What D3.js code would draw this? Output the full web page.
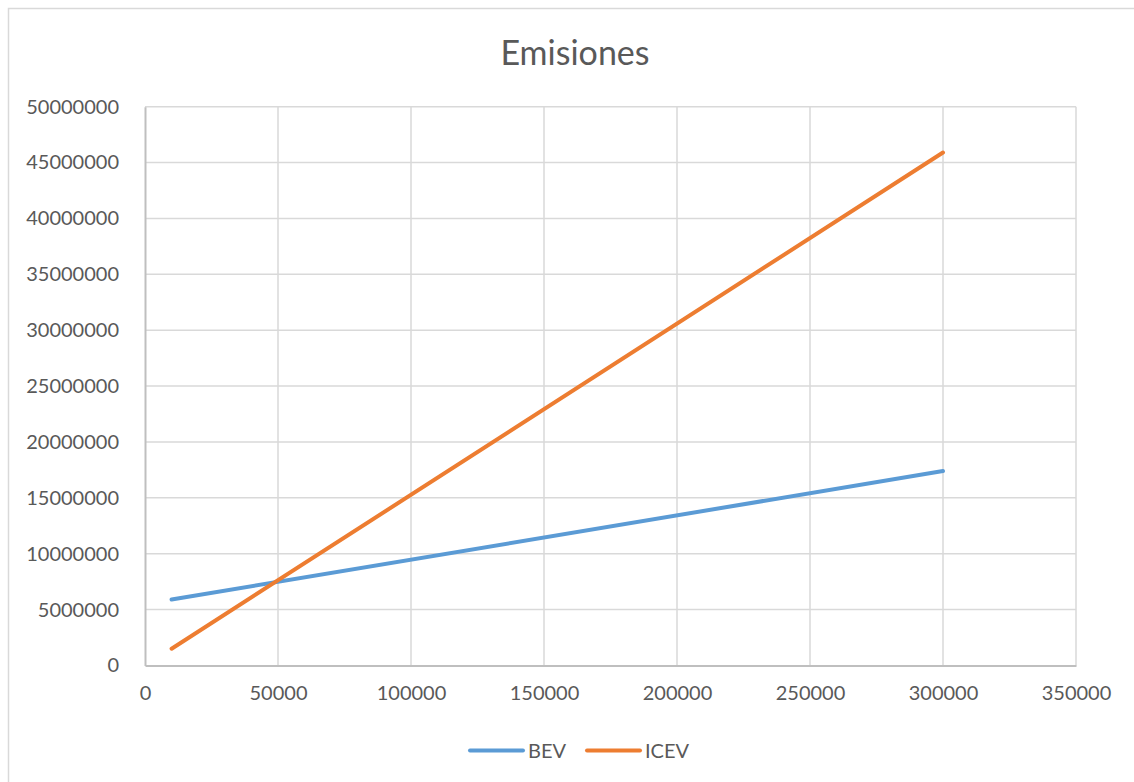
<!DOCTYPE html>
<html>
<head>
<meta charset="utf-8">
<script src="https://cdn.jsdelivr.net/npm/d3@7"></script>
<style>
  html, body { margin: 0; padding: 0; background: #fff; }
  svg { display: block; }
  text { font-family: Lato, "Open Sans", sans-serif; fill: #595959; }
</style>
</head>
<body>
<svg id="chart" width="1134" height="782"></svg>
<script>
// Distance travelled (km) at which each series was evaluated
const distances = [10000, 300000];
// Cumulative emissions for each powertrain
const bevValues = [5900000, 17400000];
const icevValues = [1500000, 45900000];
const seriesNames = ["BEV", "ICEV"];
const seriesColors = ["#5B9BD5", "#ED7D31"];
const xTicks = [0, 50000, 100000, 150000, 200000, 250000, 300000, 350000];
const yTicks = [0, 5000000, 10000000, 15000000, 20000000, 25000000, 30000000, 35000000, 40000000, 45000000, 50000000];

const svg = d3.select("#chart");
const W = 1134, H = 782;
const plot = { left: 145, right: 1076, top: 106.7, bottom: 665.5 };

// Outer chart frame
svg.append("rect")
  .attr("x", 8.5).attr("y", 8.5)
  .attr("width", W + 20).attr("height", H + 20)
  .attr("fill", "#fff")
  .attr("stroke", "#d9d9d9").attr("stroke-width", 1.5);

const x = d3.scaleLinear().domain([0, 350000]).range([plot.left, plot.right]);
const y = d3.scaleLinear().domain([0, 50000000]).range([plot.bottom, plot.top]);

// Gridlines
const grid = svg.append("g");
grid.selectAll("line.h").data(yTicks.slice(1)).join("line")
  .attr("class", "h")
  .attr("x1", plot.left).attr("x2", plot.right)
  .attr("y1", d => y(d)).attr("y2", d => y(d))
  .attr("stroke", "#d9d9d9").attr("stroke-width", 1.5);
grid.selectAll("line.v").data(xTicks.slice(1)).join("line")
  .attr("class", "v")
  .attr("y1", plot.top).attr("y2", plot.bottom)
  .attr("x1", d => x(d)).attr("x2", d => x(d))
  .attr("stroke", "#d9d9d9").attr("stroke-width", 1.5);

// Axes
const yAxis = d3.axisLeft(y).tickValues(yTicks).tickFormat(d3.format("d")).tickSize(0).tickPadding(26);
const xAxis = d3.axisBottom(x).tickValues(xTicks).tickFormat(d3.format("d")).tickSize(0).tickPadding(20);

const gy = svg.append("g").attr("transform", `translate(${plot.left},0)`).call(yAxis);
const gx = svg.append("g").attr("transform", `translate(0,${plot.bottom})`).call(xAxis);
[gx, gy].forEach(g => {
  g.select(".domain").attr("stroke", "#bfbfbf").attr("stroke-width", 2);
  g.selectAll("text").attr("font-size", 20).attr("fill", "#595959")
    .attr("font-family", "Lato, 'Open Sans', sans-serif");
});

// Series lines
const seriesData = [bevValues, icevValues].map((vals, i) => ({
  name: seriesNames[i],
  color: seriesColors[i],
  points: distances.map((d, j) => ({ x: d, y: vals[j] }))
}));

const line = d3.line().x(p => x(p.x)).y(p => y(p.y));
svg.append("g").selectAll("path").data(seriesData).join("path")
  .attr("d", s => line(s.points))
  .attr("fill", "none")
  .attr("stroke", s => s.color)
  .attr("stroke-width", 4)
  .attr("stroke-linecap", "round");

// Title
svg.append("text")
  .attr("x", 575).attr("y", 65)
  .attr("text-anchor", "middle")
  .attr("font-size", 34)
  .text("Emisiones");

// Legend
const legendX = [470, 587];
const legend = svg.append("g").selectAll("g").data(seriesData).join("g")
  .attr("transform", (s, i) => `translate(${legendX[i]},750.5)`);
legend.append("line")
  .attr("x1", 0).attr("x2", 53)
  .attr("stroke", s => s.color).attr("stroke-width", 4)
  .attr("stroke-linecap", "round");
legend.append("text")
  .attr("x", 58).attr("y", 0).attr("dy", "0.35em")
  .attr("font-size", 20)
  .text(s => s.name);
</script>
</body>
</html>
